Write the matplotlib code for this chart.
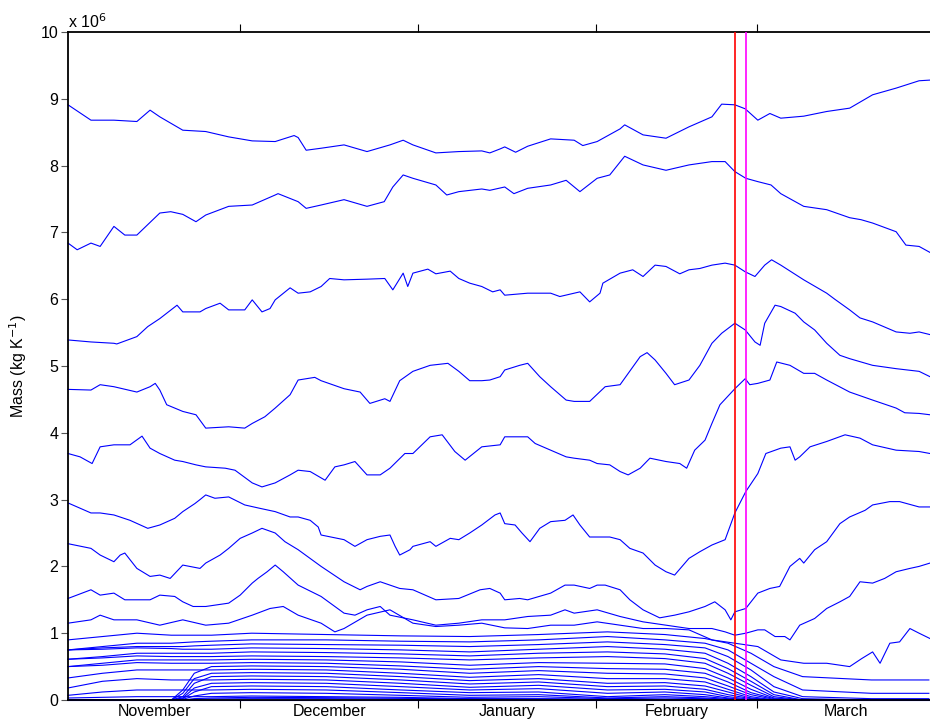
import matplotlib
matplotlib.use("Agg")
import matplotlib.pyplot as plt
import numpy as np

plt.rcParams['font.family'] = ['Liberation Sans', 'DejaVu Sans']

# x in days since 1 November; y in units of 1e6 kg/K
month_edges = [0, 30, 61, 92, 120]
month_mids = [15, 45.5, 76.5, 106, 135.5]
month_names = ['November', 'December', 'January', 'February', 'March']
red_day = 116.2
magenta_day = 118.2

l1_d = [0, 4.0, 8.0, 12.0, 14.3, 16.0, 20.0, 24.0, 28.0, 32.1, 36.1, 39.4, 40.1, 41.5, 44.1, 48.1, 52.1, 56.1, 58.4, 60.1, 64.1, 68.1, 72.1, 73.5, 75.3, 76.1, 78.0, 80.1, 84.1, 88.2, 89.7, 92.2, 96.2, 97.0, 100.2, 104.2, 108.2, 112.2, 113.9, 116.2, 118.0, 120.2, 122.3, 124.2, 128.2, 132.2, 136.2, 140.2, 144.3, 148.3, 150.2]
l1_v = [8.91, 8.68, 8.68, 8.66, 8.83, 8.73, 8.53, 8.51, 8.43, 8.37, 8.36, 8.45, 8.42, 8.23, 8.26, 8.31, 8.21, 8.31, 8.38, 8.31, 8.19, 8.21, 8.22, 8.19, 8.25, 8.28, 8.20, 8.29, 8.40, 8.38, 8.30, 8.36, 8.55, 8.61, 8.46, 8.41, 8.58, 8.73, 8.92, 8.91, 8.85, 8.68, 8.78, 8.71, 8.74, 8.81, 8.86, 9.06, 9.16, 9.27, 9.28]

l2_d = [0, 1.6, 4.0, 5.6, 8.0, 9.9, 12.0, 16.0, 17.9, 20.0, 22.3, 24.0, 28.0, 32.1, 36.1, 36.6, 40.1, 41.5, 44.1, 48.1, 52.1, 55.1, 56.6, 58.4, 60.1, 64.1, 66.0, 68.1, 72.1, 73.5, 76.1, 77.7, 80.1, 84.1, 86.8, 89.2, 92.2, 94.4, 97.0, 100.2, 104.2, 108.2, 112.2, 114.5, 116.2, 118.1, 120.2, 122.5, 124.2, 128.2, 132.2, 136.2, 138.2, 140.2, 144.3, 146.0, 148.3, 150.2]
l2_v = [6.84, 6.74, 6.84, 6.79, 7.09, 6.96, 6.96, 7.29, 7.31, 7.27, 7.16, 7.26, 7.39, 7.41, 7.56, 7.58, 7.46, 7.36, 7.41, 7.49, 7.39, 7.46, 7.68, 7.86, 7.81, 7.71, 7.56, 7.61, 7.65, 7.63, 7.68, 7.58, 7.66, 7.71, 7.78, 7.61, 7.81, 7.86, 8.14, 8.01, 7.93, 8.01, 8.06, 8.06, 7.91, 7.81, 7.76, 7.71, 7.58, 7.39, 7.34, 7.22, 7.19, 7.14, 7.01, 6.81, 6.79, 6.70]

l3_d = [0, 4.0, 8.0, 8.5, 12.0, 13.9, 16.0, 19.0, 20.0, 23.0, 24.0, 26.5, 28.0, 30.8, 32.1, 33.8, 35.2, 36.1, 38.7, 40.1, 42.2, 44.1, 45.6, 48.1, 52.1, 55.2, 56.6, 58.4, 59.2, 60.1, 62.7, 64.1, 66.6, 68.1, 70.0, 72.1, 74.0, 75.3, 76.1, 80.1, 84.1, 85.7, 89.2, 90.9, 92.7, 93.2, 96.2, 98.4, 100.2, 102.3, 104.2, 106.6, 108.2, 110.1, 112.2, 114.5, 116.2, 118.0, 119.7, 121.4, 122.6, 124.2, 128.2, 132.2, 133.6, 136.2, 138.0, 140.2, 144.3, 146.7, 148.3, 150.2]
l3_v = [5.39, 5.36, 5.34, 5.33, 5.44, 5.59, 5.71, 5.91, 5.81, 5.81, 5.86, 5.94, 5.84, 5.84, 5.99, 5.81, 5.86, 5.99, 6.17, 6.09, 6.11, 6.19, 6.31, 6.29, 6.30, 6.31, 6.14, 6.39, 6.19, 6.39, 6.45, 6.38, 6.42, 6.31, 6.24, 6.19, 6.11, 6.14, 6.06, 6.09, 6.09, 6.04, 6.11, 5.96, 6.09, 6.24, 6.39, 6.44, 6.34, 6.51, 6.49, 6.38, 6.44, 6.46, 6.51, 6.54, 6.51, 6.41, 6.34, 6.51, 6.59, 6.51, 6.29, 6.09, 6.00, 5.84, 5.72, 5.66, 5.51, 5.49, 5.51, 5.47]

l4_d = [0, 4.0, 5.6, 8.0, 12.0, 14.3, 15.2, 16.0, 17.2, 20.0, 22.3, 24.0, 28.0, 30.8, 32.1, 34.3, 36.1, 38.7, 40.1, 43.0, 44.1, 48.1, 50.9, 52.6, 55.2, 56.1, 57.8, 60.1, 63.1, 66.2, 68.1, 70.0, 72.1, 73.5, 75.3, 76.1, 78.7, 80.1, 82.2, 84.1, 86.8, 88.2, 90.9, 93.6, 96.2, 99.7, 100.9, 102.3, 104.2, 105.7, 108.2, 110.1, 112.2, 113.9, 116.2, 118.0, 119.7, 120.6, 121.4, 123.2, 124.2, 126.7, 128.2, 130.1, 132.2, 134.5, 136.2, 140.2, 144.3, 148.3, 150.2]
l4_v = [4.65, 4.64, 4.72, 4.69, 4.61, 4.69, 4.74, 4.64, 4.42, 4.32, 4.27, 4.07, 4.09, 4.07, 4.14, 4.24, 4.37, 4.57, 4.79, 4.83, 4.78, 4.66, 4.61, 4.44, 4.51, 4.47, 4.78, 4.92, 5.01, 5.04, 4.92, 4.78, 4.78, 4.79, 4.84, 4.94, 5.01, 5.04, 4.84, 4.69, 4.49, 4.47, 4.47, 4.69, 4.72, 5.14, 5.20, 5.09, 4.89, 4.72, 4.79, 5.01, 5.34, 5.49, 5.64, 5.54, 5.36, 5.31, 5.64, 5.91, 5.89, 5.79, 5.66, 5.54, 5.34, 5.16, 5.11, 5.01, 4.96, 4.92, 4.84]

l5_d = [0, 2.1, 4.2, 5.6, 8.0, 10.8, 12.9, 14.3, 16.0, 18.6, 20.0, 22.3, 24.0, 27.4, 29.1, 32.1, 33.8, 36.1, 38.7, 40.1, 42.2, 44.8, 46.5, 48.1, 50.0, 52.1, 54.4, 56.1, 58.7, 60.1, 63.1, 65.2, 67.4, 69.2, 72.1, 75.3, 76.1, 80.1, 81.4, 84.1, 86.8, 88.2, 90.9, 92.2, 94.4, 96.2, 97.6, 99.7, 101.4, 104.2, 106.6, 107.8, 109.2, 111.0, 112.2, 113.6, 116.2, 118.0, 118.8, 120.2, 122.3, 123.5, 125.8, 128.2, 130.1, 132.2, 136.2, 140.2, 144.3, 145.8, 148.3, 150.2]
l5_v = [3.69, 3.64, 3.54, 3.79, 3.82, 3.82, 3.95, 3.77, 3.69, 3.59, 3.57, 3.52, 3.49, 3.47, 3.44, 3.25, 3.19, 3.25, 3.37, 3.44, 3.42, 3.29, 3.49, 3.52, 3.57, 3.37, 3.37, 3.47, 3.69, 3.69, 3.94, 3.97, 3.72, 3.59, 3.79, 3.82, 3.94, 3.94, 3.84, 3.74, 3.64, 3.62, 3.59, 3.54, 3.52, 3.42, 3.37, 3.47, 3.62, 3.57, 3.54, 3.47, 3.74, 3.89, 4.14, 4.42, 4.66, 4.81, 4.72, 4.74, 4.79, 5.06, 5.01, 4.89, 4.89, 4.79, 4.61, 4.49, 4.37, 4.30, 4.29, 4.27]

l6_d = [0, 4.0, 5.6, 8.0, 10.8, 13.9, 16.0, 18.6, 20.0, 22.1, 23.0, 24.0, 25.6, 28.0, 30.8, 33.4, 36.1, 38.7, 40.1, 42.2, 43.6, 44.1, 48.1, 50.0, 52.1, 54.4, 56.1, 57.0, 57.8, 59.6, 60.1, 63.1, 64.1, 66.6, 68.1, 70.0, 72.1, 74.4, 75.3, 76.1, 77.9, 79.1, 80.5, 82.2, 84.1, 86.6, 88.0, 89.2, 90.9, 92.7, 94.4, 96.2, 97.9, 100.2, 102.3, 104.2, 105.7, 108.2, 110.1, 112.2, 114.5, 116.2, 118.1, 120.2, 121.6, 124.2, 125.8, 126.7, 127.5, 129.3, 132.2, 135.4, 138.0, 140.2, 144.3, 148.3, 150.2]
l6_v = [2.95, 2.80, 2.80, 2.77, 2.69, 2.57, 2.62, 2.72, 2.82, 2.94, 3.00, 3.07, 3.02, 3.04, 2.92, 2.87, 2.82, 2.74, 2.74, 2.69, 2.59, 2.47, 2.40, 2.30, 2.40, 2.45, 2.47, 2.30, 2.17, 2.25, 2.30, 2.37, 2.30, 2.42, 2.40, 2.50, 2.62, 2.77, 2.80, 2.64, 2.62, 2.50, 2.37, 2.57, 2.67, 2.69, 2.77, 2.62, 2.44, 2.44, 2.44, 2.40, 2.27, 2.20, 2.02, 1.92, 1.87, 2.12, 2.22, 2.32, 2.40, 2.80, 3.12, 3.39, 3.69, 3.77, 3.79, 3.59, 3.64, 3.79, 3.87, 3.97, 3.92, 3.82, 3.74, 3.72, 3.69]

l7_d = [0, 4.0, 5.6, 8.0, 9.1, 9.9, 12.0, 14.3, 16.0, 17.8, 20.0, 23.0, 24.0, 26.5, 28.0, 30.0, 32.1, 33.8, 36.1, 37.8, 40.1, 44.1, 48.1, 50.9, 52.1, 54.4, 56.1, 57.8, 60.1, 64.1, 68.1, 71.8, 73.5, 75.3, 76.1, 78.7, 80.1, 84.1, 86.6, 88.2, 90.9, 92.2, 93.6, 96.2, 97.9, 100.2, 103.1, 105.7, 108.2, 111.0, 112.7, 114.5, 115.5, 116.2, 118.1, 120.2, 122.3, 124.0, 125.8, 127.5, 128.2, 130.1, 132.2, 134.5, 136.2, 138.9, 140.2, 143.2, 144.9, 148.3, 150.2]
l7_v = [2.34, 2.27, 2.17, 2.07, 2.17, 2.20, 1.97, 1.85, 1.87, 1.82, 2.02, 1.97, 2.05, 2.17, 2.27, 2.42, 2.50, 2.57, 2.50, 2.37, 2.25, 2.00, 1.77, 1.65, 1.70, 1.77, 1.72, 1.67, 1.65, 1.50, 1.52, 1.65, 1.67, 1.60, 1.50, 1.52, 1.50, 1.60, 1.72, 1.72, 1.67, 1.72, 1.72, 1.65, 1.50, 1.35, 1.23, 1.27, 1.32, 1.40, 1.47, 1.35, 1.20, 1.32, 1.37, 1.60, 1.67, 1.70, 2.00, 2.12, 2.05, 2.25, 2.37, 2.64, 2.74, 2.84, 2.92, 2.97, 2.97, 2.89, 2.89]

l8_d = [0, 4.0, 5.6, 8.0, 9.9, 12.0, 14.3, 16.0, 18.6, 20.0, 21.8, 24.0, 28.0, 30.0, 32.1, 33.1, 34.7, 36.1, 37.5, 40.1, 44.1, 48.1, 50.0, 52.1, 54.4, 56.1, 60.1, 64.1, 68.1, 72.1, 76.1, 80.1, 84.1, 86.6, 88.2, 92.2, 96.2, 100.2, 104.2, 108.2, 112.2, 114.5, 116.2, 118.1, 120.2, 121.4, 123.2, 124.9, 125.8, 127.5, 130.1, 132.2, 134.5, 136.2, 138.0, 140.2, 142.3, 144.3, 146.7, 148.3, 150.2]
l8_v = [1.52, 1.65, 1.57, 1.60, 1.50, 1.50, 1.50, 1.57, 1.55, 1.47, 1.40, 1.40, 1.45, 1.57, 1.75, 1.82, 1.92, 2.02, 1.92, 1.72, 1.55, 1.30, 1.27, 1.35, 1.40, 1.27, 1.20, 1.12, 1.15, 1.20, 1.20, 1.25, 1.27, 1.35, 1.30, 1.35, 1.25, 1.17, 1.12, 1.07, 1.07, 1.02, 0.97, 1.00, 1.05, 1.05, 0.95, 0.95, 0.90, 1.12, 1.22, 1.37, 1.47, 1.55, 1.77, 1.75, 1.82, 1.92, 1.97, 2.00, 2.05]

l9_d = [0, 4.0, 5.6, 8.0, 12.0, 16.0, 20.0, 24.0, 28.0, 32.1, 35.2, 37.5, 40.1, 44.1, 46.5, 48.1, 52.1, 56.1, 60.1, 64.1, 68.1, 72.1, 76.1, 80.1, 84.1, 88.2, 92.2, 96.2, 100.2, 104.2, 108.2, 112.2, 116.2, 120.2, 124.2, 128.2, 132.2, 136.2, 138.3, 140.2, 141.5, 143.2, 144.9, 146.7, 148.3, 150.2]
l9_v = [1.15, 1.20, 1.27, 1.20, 1.20, 1.12, 1.20, 1.12, 1.15, 1.27, 1.37, 1.40, 1.27, 1.15, 1.02, 1.07, 1.27, 1.35, 1.15, 1.10, 1.12, 1.15, 1.08, 1.07, 1.12, 1.12, 1.17, 1.12, 1.07, 1.07, 1.05, 0.90, 0.85, 0.80, 0.60, 0.55, 0.55, 0.50, 0.62, 0.72, 0.55, 0.85, 0.87, 1.07, 1.00, 0.92]

# lower bundle of thin layers, sampled on a common day grid
low_d = [0, 6, 12, 18, 20, 22, 25, 32, 45, 58, 70, 82, 94, 104, 111, 115, 119, 123, 128, 140, 150]
low_00 = [0.90, 0.95, 1.00, 0.97, 0.97, 0.97, 0.97, 1.00, 0.98, 0.96, 0.95, 0.98, 1.02, 0.98, 0.92, 0.85, 0.70, 0.50, 0.35, 0.30, 0.30]
low_01 = [0.75, 0.80, 0.85, 0.85, 0.86, 0.87, 0.88, 0.90, 0.90, 0.88, 0.87, 0.90, 0.95, 0.90, 0.85, 0.75, 0.55, 0.35, 0.15, 0.10, 0.10]
low_02 = [0.75, 0.78, 0.80, 0.80, 0.80, 0.81, 0.82, 0.84, 0.83, 0.82, 0.80, 0.83, 0.87, 0.83, 0.78, 0.65, 0.45, 0.20, 0.05, 0.02, 0.02]
low_03 = [0.75, 0.76, 0.78, 0.77, 0.76, 0.76, 0.76, 0.78, 0.77, 0.75, 0.72, 0.76, 0.80, 0.76, 0.70, 0.55, 0.35, 0.12, 0.02, 0.0, 0.0]
low_04 = [0.61, 0.65, 0.70, 0.70, 0.70, 0.70, 0.70, 0.72, 0.71, 0.69, 0.66, 0.70, 0.72, 0.69, 0.62, 0.47, 0.28, 0.08, 0.0, 0.0, 0.0]
low_05 = [0.61, 0.63, 0.66, 0.65, 0.65, 0.65, 0.65, 0.66, 0.65, 0.63, 0.60, 0.63, 0.65, 0.62, 0.55, 0.40, 0.22, 0.05, 0.0, 0.0, 0.0]
low_06 = [0.50, 0.55, 0.60, 0.60, 0.60, 0.60, 0.60, 0.61, 0.60, 0.57, 0.52, 0.56, 0.55, 0.54, 0.47, 0.33, 0.16, 0.03, 0.0, 0.0, 0.0]
low_07 = [0.50, 0.52, 0.56, 0.55, 0.55, 0.55, 0.55, 0.56, 0.55, 0.51, 0.46, 0.50, 0.47, 0.46, 0.40, 0.27, 0.11, 0.02, 0.0, 0.0, 0.0]
low_08 = [0.0, 0.0, 0.0, 0.0, 0.15, 0.40, 0.50, 0.51, 0.50, 0.46, 0.40, 0.44, 0.40, 0.39, 0.33, 0.21, 0.08, 0.01, 0.0, 0.0, 0.0]
low_09 = [0.33, 0.40, 0.45, 0.45, 0.45, 0.45, 0.45, 0.46, 0.45, 0.40, 0.34, 0.38, 0.32, 0.32, 0.27, 0.16, 0.05, 0.0, 0.0, 0.0, 0.0]
low_10 = [0.0, 0.0, 0.0, 0.0, 0.10, 0.32, 0.40, 0.41, 0.40, 0.35, 0.29, 0.32, 0.25, 0.26, 0.21, 0.12, 0.03, 0.0, 0.0, 0.0, 0.0]
low_11 = [0.0, 0.0, 0.0, 0.0, 0.05, 0.25, 0.35, 0.36, 0.35, 0.30, 0.24, 0.27, 0.20, 0.21, 0.16, 0.08, 0.02, 0.0, 0.0, 0.0, 0.0]
low_12 = [0.18, 0.28, 0.32, 0.30, 0.30, 0.30, 0.30, 0.31, 0.30, 0.25, 0.19, 0.22, 0.15, 0.16, 0.12, 0.05, 0.01, 0.0, 0.0, 0.0, 0.0]
low_13 = [0.0, 0.0, 0.0, 0.0, 0.03, 0.18, 0.25, 0.26, 0.25, 0.20, 0.15, 0.17, 0.10, 0.12, 0.08, 0.03, 0.0, 0.0, 0.0, 0.0, 0.0]
low_14 = [0.0, 0.0, 0.0, 0.0, 0.02, 0.12, 0.20, 0.21, 0.20, 0.15, 0.11, 0.12, 0.05, 0.08, 0.05, 0.02, 0.0, 0.0, 0.0, 0.0, 0.0]
low_15 = [0.07, 0.12, 0.15, 0.15, 0.15, 0.15, 0.15, 0.16, 0.15, 0.11, 0.07, 0.08, 0.03, 0.05, 0.03, 0.01, 0.0, 0.0, 0.0, 0.0, 0.0]
low_16 = [0.0, 0.0, 0.0, 0.0, 0.01, 0.06, 0.10, 0.11, 0.10, 0.07, 0.04, 0.05, 0.02, 0.03, 0.02, 0.0, 0.0, 0.0, 0.0, 0.0, 0.0]
low_17 = [0.03, 0.04, 0.05, 0.05, 0.05, 0.05, 0.05, 0.06, 0.05, 0.04, 0.02, 0.02, 0.01, 0.01, 0.01, 0.0, 0.0, 0.0, 0.0, 0.0, 0.0]
low_18 = [0.0, 0.0, 0.0, 0.0, 0.0, 0.02, 0.03, 0.04, 0.035, 0.025, 0.015, 0.015, 0.008, 0.008, 0.005, 0.0, 0.0, 0.0, 0.0, 0.0, 0.0]
low_19 = [0.0, 0.0, 0.0, 0.0, 0.0, 0.01, 0.015, 0.02, 0.02, 0.012, 0.008, 0.008, 0.004, 0.004, 0.002, 0.0, 0.0, 0.0, 0.0, 0.0, 0.0]
low_20 = [0.0] * len(low_d)

main_lines = [(l1_d, l1_v), (l2_d, l2_v), (l3_d, l3_v), (l4_d, l4_v), (l5_d, l5_v),
              (l6_d, l6_v), (l7_d, l7_v), (l8_d, l8_v), (l9_d, l9_v)]
low_lines = [low_00, low_01, low_02, low_03, low_04, low_05, low_06, low_07, low_08, low_09,
             low_10, low_11, low_12, low_13, low_14, low_15, low_16, low_17, low_18, low_19, low_20]

fig = plt.figure(figsize=(9.30, 7.21), dpi=100)
ax = fig.add_axes([68 / 930, 1 - 700 / 721, (930 - 68) / 930, 668 / 721])

scale = 1e6
for d, v in main_lines:
    ax.plot(d, np.array(v) * scale, color='#0000ff', lw=0.8, clip_on=False, zorder=2)
for v in low_lines:
    ax.plot(low_d, np.array(v) * scale, color='#0000ff', lw=0.8, clip_on=False, zorder=2)

ax.axvline(red_day, color='#ff0000', lw=1.2, zorder=3)
ax.axvline(magenta_day, color='#ff00ff', lw=1.2, zorder=3)

ax.set_xlim(0, 150.2)
ax.set_ylim(0, 10e6)
ax.set_yticks(np.arange(0, 11) * scale)
ax.set_yticklabels([str(i) for i in range(11)])
ax.set_xticks(month_edges[1:])
ax.set_xticklabels([])
ax.set_xticks(month_mids, minor=True)
ax.set_xticklabels(month_names, minor=True)
ax.tick_params(axis='x', which='minor', length=0, labelsize=11.5, pad=3)
ax.tick_params(axis='x', which='major', direction='out', length=6, top=True, width=0.8)
ax.tick_params(axis='y', direction='out', length=5, width=0.8, labelsize=11.5, color='#555555', pad=2)
ax.spines['right'].set_visible(False)
for s in ['left', 'top', 'bottom']:
    ax.spines[s].set_linewidth(1.3)

ax.text(0, 1.002, r'x 10$^{6}$', transform=ax.transAxes, ha='left', va='bottom', fontsize=11.5)
ax.set_ylabel(r'Mass (kg K$^{-1}$)', fontsize=11.5, labelpad=8)

fig.savefig('out.png', dpi=100)
